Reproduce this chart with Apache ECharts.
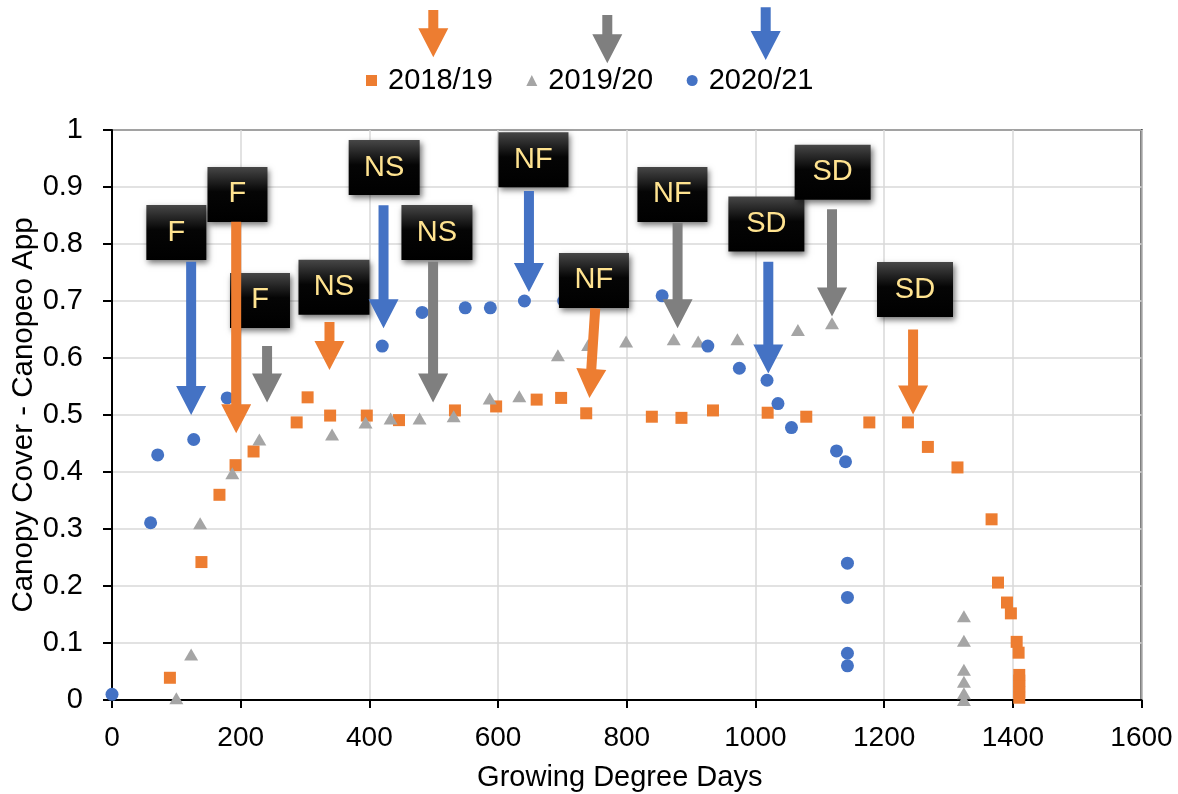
<!DOCTYPE html>
<html>
<head>
<meta charset="utf-8">
<script src="https://cdn.jsdelivr.net/npm/echarts@6/dist/echarts.min.js"></script>
<style>
html,body{margin:0;padding:0;background:#fff;}
#chart{width:1178px;height:794px;}
</style>
</head>
<body>
<div id="chart"></div>
<script>
// ---- Data (Growing Degree Days, Canopy cover fraction) ----
const seriesNames = ['2018/19', '2019/20', '2020/21'];

const gdd1819 = [90,139,167,192,220,287,304,339,396,446,533,597,660,698,737,839,885,934,1019,1079,1177,1237,1268,1314,1367,1377,1391,1397,1406,1409,1410,1410,1410,1410,1410];
const cc1819  = [0.039,0.242,0.36,0.412,0.436,0.487,0.531,0.499,0.499,0.491,0.508,0.515,0.527,0.530,0.503,0.497,0.495,0.508,0.504,0.497,0.487,0.487,0.444,0.408,0.317,0.206,0.171,0.152,0.102,0.083,0.044,0.034,0.024,0.014,0.004];

const gdd1920 = [100,123,137,187,229,342,394,433,478,531,587,633,693,740,799,873,911,972,1066,1119,1324,1324,1324,1324,1324,1324];
const cc1920  = [0.003,0.08,0.31,0.398,0.457,0.466,0.487,0.494,0.494,0.498,0.529,0.533,0.605,0.623,0.629,0.633,0.629,0.633,0.649,0.661,0.147,0.104,0.053,0.032,0.012,0.0];

const gdd2021 = [0,60,71,127,179,420,482,549,588,641,702,855,926,975,1018,1035,1056,1126,1140,1143,1143,1143,1143];
const cc2021  = [0.01,0.311,0.43,0.457,0.53,0.621,0.68,0.688,0.688,0.70,0.70,0.709,0.621,0.582,0.561,0.52,0.478,0.437,0.418,0.24,0.18,0.082,0.060];

const xTicks = [0,200,400,600,800,1000,1200,1400,1600];
const yTicks = [0,0.1,0.2,0.3,0.4,0.5,0.6,0.7,0.8,0.9,1];

// ---- Annotations (in data units) ----
// label boxes: [centerGDD, centerCover]
const boxLabels = ['F','F','F','NS','NS','NS','NF','NF','NF','SD','SD','SD'];
const boxPos = [[100,0.820],[195,0.887],[230,0.701],[345,0.724],[423,0.934],[505,0.820],[655,0.948],[749,0.736],[871,0.887],[1017,0.835],[1120,0.926],[1248,0.720]];
// arrows: [tailGDD, tailCover, tipGDD, tipCover], season index
const arrowPos = [[123,0.769,123,0.500],[193,0.839,193,0.468],[241,0.621,241,0.522],[338,0.663,338,0.579],[422,0.868,422,0.652],[499,0.769,499,0.522],[648,0.893,648,0.716],[751,0.687,742,0.530],[879,0.837,879,0.652],[1020,0.769,1020,0.573],[1119,0.861,1119,0.673],[1245,0.650,1245,0.501]];
const arrowSeason = [2,0,1,0,2,1,2,0,1,2,1,0];

// ---- Styles ----
const markerColors = ['#ED7D31','#A5A5A5','#4472C4'];
const arrowColors = ['#ED7D31','#7F7F7F','#4472C4'];
const boxWidth = {F:60, NS:71, NF:70, SD:76};
const FONT = '"Liberation Sans", Arial, sans-serif';

function zip(a,b){return a.map((v,i)=>[v,b[i]]);}

function arrowPoints(x1,y1,x2,y2){
  const dx=x2-x1, dy=y2-y1, L=Math.sqrt(dx*dx+dy*dy);
  const ux=dx/L, uy=dy/L, nx=-uy, ny=ux;
  const H=29, s=5, h=15;
  const bx=x2-ux*H, by=y2-uy*H;
  return [[x1+nx*s,y1+ny*s],[bx+nx*s,by+ny*s],[bx+nx*h,by+ny*h],[x2,y2],[bx-nx*h,by-ny*h],[bx-nx*s,by-ny*s],[x1-nx*s,y1-ny*s]];
}

const chart = echarts.init(document.getElementById('chart'));

const legendArrows = [[433.3,10,57.3,0],[607.3,15,63.3,1],[765.7,7.3,60,2]].map(a=>({
  type:'polygon', z:100,
  shape:{points:arrowPoints(a[0],a[1],a[0],a[2])},
  style:{fill:arrowColors[a[3]]}
}));

const option = {
  animation:false,
  backgroundColor:'#fff',
  textStyle:{fontFamily:FONT},
  grid:{left:112,right:36.5,top:130,bottom:94,show:true,borderColor:'#000',borderWidth:2,containLabel:false,outerBoundsMode:'none'},
  legend:{
    data:seriesNames.map((n,i)=>({name:n,icon:['rect','triangle','circle'][i]})),
    left:366, top:66, padding:0,
    itemWidth:11, itemHeight:11, itemGap:33.5,
    textStyle:{fontSize:29,color:'#000',fontFamily:FONT,padding:[0,0,0,6]}
  },
  xAxis:{
    type:'value', min:0, max:1600, interval:200,
    name:'Growing Degree Days', nameLocation:'middle', nameGap:63, nameMoveOverlap:false,
    nameTextStyle:{fontSize:29,color:'#000',fontFamily:FONT,padding:[0,14,0,0]},
    axisLine:{show:true,onZero:false,lineStyle:{color:'#000',width:2}},
    axisTick:{show:true,inside:false,length:8,lineStyle:{color:'#000',width:2}},
    axisLabel:{fontSize:28,color:'#000',margin:24,fontFamily:FONT,formatter:v=>String(v)},
    splitLine:{show:true,lineStyle:{color:'#D9D9D9',width:1.5}}
  },
  yAxis:{
    type:'value', min:0, max:1, interval:0.1,
    name:'Canopy Cover - Canopeo App', nameLocation:'middle', nameGap:73, nameMoveOverlap:false,
    nameTextStyle:{fontSize:29.5,color:'#000',fontFamily:FONT},
    axisLine:{show:true,onZero:false,lineStyle:{color:'#000',width:2}},
    axisTick:{show:true,inside:false,length:9,lineStyle:{color:'#000',width:2}},
    axisLabel:{fontSize:29,color:'#000',margin:29,fontFamily:FONT,
      formatter:v=>String(Math.round(v*10)/10)},
    splitLine:{show:true,lineStyle:{color:'#D9D9D9',width:1.5}}
  },
  graphic:legendArrows,
  series:[
    {name:seriesNames[0],type:'scatter',symbol:'rect',symbolSize:12,itemStyle:{color:markerColors[0],opacity:1},data:zip(gdd1819,cc1819),z:2},
    {name:seriesNames[1],type:'scatter',symbol:'triangle',symbolSize:[14,12],itemStyle:{color:markerColors[1],opacity:1},data:zip(gdd1920,cc1920),z:2},
    {name:seriesNames[2],type:'scatter',symbol:'circle',symbolSize:13,itemStyle:{color:markerColors[2],opacity:1},data:zip(gdd2021,cc2021),z:2},
    {
      type:'custom', name:'boxes', z:10, silent:true,
      data:boxPos,
      renderItem:function(params,api){
        const c=api.coord([api.value(0),api.value(1)]);
        const lab=boxLabels[params.dataIndex];
        const w=boxWidth[lab], h=55;
        return {type:'group',children:[
          {type:'rect',shape:{x:c[0]-w/2,y:c[1]-h/2,width:w,height:h},
           style:{fill:new echarts.graphic.LinearGradient(0,0,0,1,[{offset:0,color:'#474747'},{offset:0.45,color:'#050505'},{offset:1,color:'#000'}]),
             shadowBlur:6,shadowOffsetX:2,shadowOffsetY:3,shadowColor:'rgba(0,0,0,0.55)'}},
          {type:'text',x:c[0],y:c[1],style:{text:lab,fill:'#FFE390',fontSize:29,fontFamily:FONT,align:'center',verticalAlign:'middle'}}
        ]};
      }
    },
    {
      type:'custom', name:'arrows', z:11, silent:true,
      data:arrowPos,
      renderItem:function(params,api){
        const a=api.coord([api.value(0),api.value(1)]);
        const b=api.coord([api.value(2),api.value(3)]);
        return {type:'polygon',shape:{points:arrowPoints(a[0],a[1],b[0],b[1])},
          style:{fill:arrowColors[arrowSeason[params.dataIndex]]}};
      }
    }
  ]
};
chart.setOption(option);
</script>
</body>
</html>
